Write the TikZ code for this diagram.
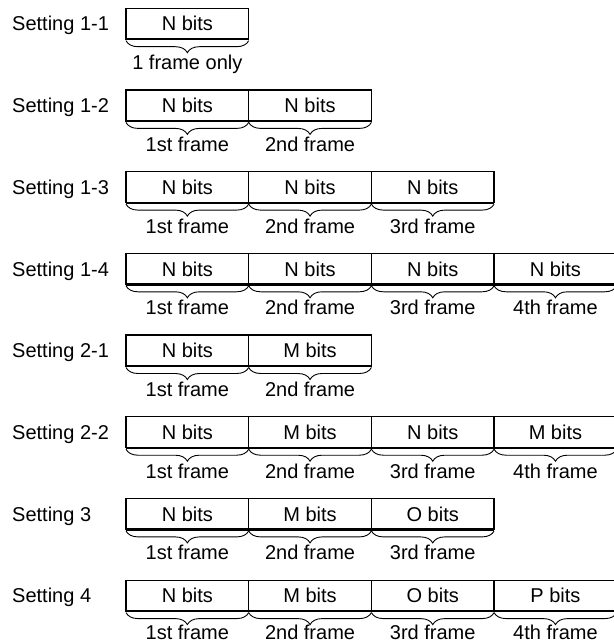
\documentclass[tikz,border=0pt]{standalone}
\usepackage{fontspec}
\setmainfont{Liberation Sans}
\usetikzlibrary{positioning,decorations.pathreplacing}

\tikzset{
  bitbox/.style={draw, line width=1.3pt, minimum width=122.7pt, minimum height=31pt, inner sep=0pt, outer sep=0pt},
  setlbl/.style={anchor=base west, inner sep=0pt},
  botline/.style={line width=2.3pt},
  frbrace/.style={decorate, decoration={brace, mirror, amplitude=12pt, raise=1.4pt}, line width=0.9pt},
  frlbl/.style={midway, below=16pt, inner sep=0pt, outer sep=0pt}
}

\begin{document}
\begin{tikzpicture}[x=1pt, y=-1pt, font=\fontsize{20}{24}\selectfont]
    % page frame, y grows downward
    \useasboundingbox (0,0) rectangle (613,644);
    \coordinate (edge) at (12,0);

    % Setting 1-1
    \node[bitbox, anchor=north west] (b11a) at (126, 8.3) {N bits};
    \node[setlbl] (s11) at (b11a.base -| edge) {Setting 1-1};
    \draw[botline] (b11a.south west) -- (b11a.south east);
    \draw[frbrace] (b11a.south west) -- (b11a.south east) node[frlbl] (f11a) {1 frame only};

    % Setting 1-2
    \node[bitbox, anchor=north west] (b12a) at (126, 90) {N bits};
    \node[bitbox, right=0pt of b12a] (b12b) {N bits};
    \node[setlbl] (s12) at (b12a.base -| edge) {Setting 1-2};
    \draw[botline] (b12a.south west) -- (b12b.south east);
    \draw[frbrace] (b12a.south west) -- (b12a.south east) node[frlbl] (f12a) {1st frame};
    \draw[frbrace] (b12b.south west) -- (b12b.south east) node[frlbl] (f12b) {2nd frame};

    % Setting 1-3
    \node[bitbox, anchor=north west] (b13a) at (126, 171.7) {N bits};
    \node[bitbox, right=0pt of b13a] (b13b) {N bits};
    \node[bitbox, right=0pt of b13b] (b13c) {N bits};
    \node[setlbl] (s13) at (b13a.base -| edge) {Setting 1-3};
    \draw[botline] (b13a.south west) -- (b13c.south east);
    \draw[frbrace] (b13a.south west) -- (b13a.south east) node[frlbl] (f13a) {1st frame};
    \draw[frbrace] (b13b.south west) -- (b13b.south east) node[frlbl] (f13b) {2nd frame};
    \draw[frbrace] (b13c.south west) -- (b13c.south east) node[frlbl] (f13c) {3rd frame};

    % Setting 1-4
    \node[bitbox, anchor=north west] (b14a) at (126, 253.4) {N bits};
    \node[bitbox, right=0pt of b14a] (b14b) {N bits};
    \node[bitbox, right=0pt of b14b] (b14c) {N bits};
    \node[bitbox, right=0pt of b14c] (b14d) {N bits};
    \node[setlbl] (s14) at (b14a.base -| edge) {Setting 1-4};
    \draw[botline] (b14a.south west) -- (b14d.south east);
    \draw[frbrace] (b14a.south west) -- (b14a.south east) node[frlbl] (f14a) {1st frame};
    \draw[frbrace] (b14b.south west) -- (b14b.south east) node[frlbl] (f14b) {2nd frame};
    \draw[frbrace] (b14c.south west) -- (b14c.south east) node[frlbl] (f14c) {3rd frame};
    \draw[frbrace] (b14d.south west) -- (b14d.south east) node[frlbl] (f14d) {4th frame};

    % Setting 2-1
    \node[bitbox, anchor=north west] (b21a) at (126, 335.1) {N bits};
    \node[bitbox, right=0pt of b21a] (b21b) {M bits};
    \node[setlbl] (s21) at (b21a.base -| edge) {Setting 2-1};
    \draw[botline] (b21a.south west) -- (b21b.south east);
    \draw[frbrace] (b21a.south west) -- (b21a.south east) node[frlbl] (f21a) {1st frame};
    \draw[frbrace] (b21b.south west) -- (b21b.south east) node[frlbl] (f21b) {2nd frame};

    % Setting 2-2
    \node[bitbox, anchor=north west] (b22a) at (126, 416.8) {N bits};
    \node[bitbox, right=0pt of b22a] (b22b) {M bits};
    \node[bitbox, right=0pt of b22b] (b22c) {N bits};
    \node[bitbox, right=0pt of b22c] (b22d) {M bits};
    \node[setlbl] (s22) at (b22a.base -| edge) {Setting 2-2};
    \draw[botline] (b22a.south west) -- (b22d.south east);
    \draw[frbrace] (b22a.south west) -- (b22a.south east) node[frlbl] (f22a) {1st frame};
    \draw[frbrace] (b22b.south west) -- (b22b.south east) node[frlbl] (f22b) {2nd frame};
    \draw[frbrace] (b22c.south west) -- (b22c.south east) node[frlbl] (f22c) {3rd frame};
    \draw[frbrace] (b22d.south west) -- (b22d.south east) node[frlbl] (f22d) {4th frame};

    % Setting 3
    \node[bitbox, anchor=north west] (b3a) at (126, 498.5) {N bits};
    \node[bitbox, right=0pt of b3a] (b3b) {M bits};
    \node[bitbox, right=0pt of b3b] (b3c) {O bits};
    \node[setlbl] (s3) at (b3a.base -| edge) {Setting 3};
    \draw[botline] (b3a.south west) -- (b3c.south east);
    \draw[frbrace] (b3a.south west) -- (b3a.south east) node[frlbl] (f3a) {1st frame};
    \draw[frbrace] (b3b.south west) -- (b3b.south east) node[frlbl] (f3b) {2nd frame};
    \draw[frbrace] (b3c.south west) -- (b3c.south east) node[frlbl] (f3c) {3rd frame};

    % Setting 4 (labels sit a little higher, page ends below them)
    \node[bitbox, anchor=north west] (b4a) at (126, 580.2) {N bits};
    \node[bitbox, right=0pt of b4a] (b4b) {M bits};
    \node[bitbox, right=0pt of b4b] (b4c) {O bits};
    \node[bitbox, right=0pt of b4c] (b4d) {P bits};
    \node[setlbl] (s4) at (b4a.base -| edge) {Setting 4};
    \draw[botline] (b4a.south west) -- (b4d.south east);
    \draw[frbrace] (b4a.south west) -- (b4a.south east) node[frlbl, below=13.5pt] (f4a) {1st frame};
    \draw[frbrace] (b4b.south west) -- (b4b.south east) node[frlbl, below=13.5pt] (f4b) {2nd frame};
    \draw[frbrace] (b4c.south west) -- (b4c.south east) node[frlbl, below=13.5pt] (f4c) {3rd frame};
    \draw[frbrace] (b4d.south west) -- (b4d.south east) node[frlbl, below=13.5pt] (f4d) {4th frame};
\end{tikzpicture}
\end{document}
